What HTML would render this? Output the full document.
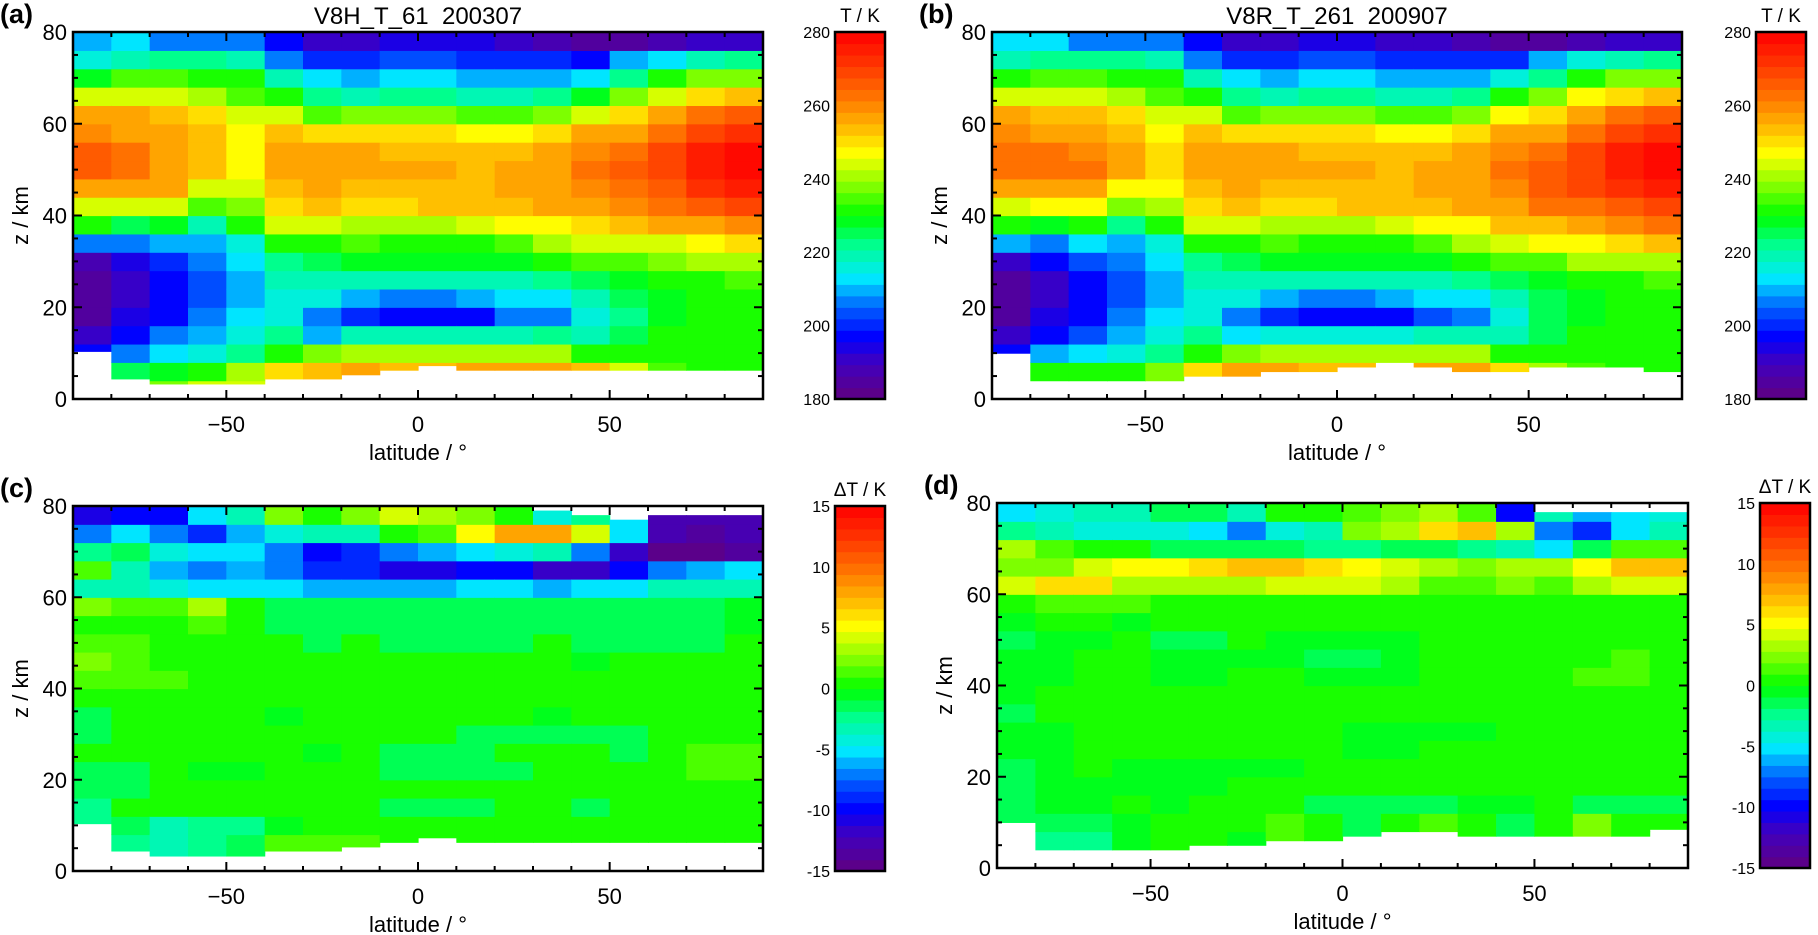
<!DOCTYPE html>
<html><head><meta charset="utf-8"><style>
html,body{margin:0;padding:0;background:#fff}
svg{display:block}
text{font-family:"Liberation Sans",sans-serif;fill:#000}
</style></head><body>
<svg id="fig" width="1818" height="935" viewBox="0 0 1818 935" xmlns="http://www.w3.org/2000/svg"></svg>
<script>
const N = null;
const latEdges = [-90,-80,-70,-60,-50,-40,-30,-20,-10,0,10,20,30,40,50,60,70,80,90];
const zEdges = [0,4,8,12,16,20,24,28,32,36,40,44,48,52,56,60,64,68,72,76,80];
const xTicks = [-50,0,50];
const yTicks = [0,20,40,60,80];
const cbTicksT = [180,200,220,240,260,280];
const cbTicksD = [-15,-10,-5,0,5,10,15];

const bottomA = [10.4,4.4,3.3,3.3,3.3,4.4,4.4,5.3,6.3,7.3,6.3,6.3,6.3,6.3,6.3,6.3,6.3,6.3];
const bottomB = [10,4,4,4,4,5,5,6,6,7,8,7,6,6,7,7,7,6];
const bottomD = [10,4,4,4,4,5,5,6,6,7,8,8,7,7,7,7,7,8.5];
const topC = [80,80,80,80,80,80,80,80,80,80,80,80,79,78,77,78,78,78];
const topD = [80,80,80,80,80,80,80,80,80,80,80,80,80,80,78,78,78,78];

const tempA = [
[N,N,198,190,185,185,185,188,208,232,245,255,265,265,260,255,245,228,215,210],
[N,225,208,198,195,190,190,195,205,225,245,258,262,262,258,255,245,235,220,212],
[238,228,212,205,198,198,198,200,210,228,245,256,258,258,256,252,245,235,222,208],
[245,232,215,210,207,203,203,205,210,220,235,245,252,253,252,250,242,232,222,206],
[245,240,222,216,214,210,210,213,216,230,238,244,248,248,247,244,236,230,218,205],
[N,250,232,222,215,215,218,222,232,245,250,253,255,255,252,245,232,218,208,198],
[N,253,238,210,206,215,220,225,232,243,252,256,257,255,250,235,222,213,200,190],
[N,258,240,218,200,210,220,228,234,242,250,254,256,255,250,237,220,210,200,192],
[N,252,240,218,197,208,220,228,232,240,250,254,255,254,250,238,222,212,202,195],
[N,252,240,218,198,208,220,228,232,242,252,254,255,254,250,238,222,212,202,195],
[N,255,240,218,198,210,220,228,232,244,252,254,254,253,248,235,220,210,200,193],
[N,255,240,220,205,212,220,228,235,246,252,255,255,254,248,234,220,210,200,190],
[N,255,242,222,208,213,222,230,240,248,255,258,258,256,250,238,222,210,200,188],
[N,252,232,218,215,220,225,235,245,250,258,260,262,260,256,245,228,213,198,185],
[N,245,232,225,222,225,228,235,245,252,260,264,265,263,258,250,238,222,210,185],
[N,235,232,230,228,228,230,238,245,255,262,266,268,268,262,255,245,230,213,188],
[N,232,230,230,230,230,232,240,248,258,265,272,276,275,270,262,250,238,218,190],
[N,232,230,230,230,232,235,240,250,260,268,275,278,277,272,265,252,238,222,192]];

const tempB = [
[N,N,198,190,185,185,186,190,210,232,245,255,264,264,260,255,245,230,218,212],
[N,232,210,198,194,190,190,196,208,228,246,258,263,263,258,254,244,234,222,214],
[242,230,214,203,198,197,198,202,212,230,247,258,262,260,256,252,244,234,222,208],
[245,232,216,210,205,203,203,206,210,222,238,248,255,256,254,250,242,232,222,205],
[245,238,222,216,213,210,210,213,216,230,240,246,250,250,248,244,236,230,218,205],
[N,250,232,222,216,215,218,222,232,245,250,253,255,255,252,245,232,218,208,198],
[N,255,238,212,206,215,220,225,232,243,252,256,257,255,250,236,222,213,200,190],
[N,255,240,216,200,210,220,228,234,242,250,254,256,255,250,237,220,210,200,192],
[N,252,240,216,197,208,220,228,232,240,250,254,255,254,250,238,222,212,202,194],
[N,252,240,216,197,208,220,228,232,242,252,254,255,254,250,238,222,212,202,194],
[N,255,240,216,198,210,220,228,233,244,252,254,254,253,248,235,220,210,200,192],
[N,255,240,218,203,212,220,228,235,246,252,255,255,254,248,235,220,210,200,190],
[N,256,242,220,205,213,222,230,240,248,255,258,258,256,250,238,222,210,200,188],
[N,250,232,220,215,220,225,235,245,252,258,261,263,260,256,246,230,215,200,186],
[N,240,232,226,224,226,228,236,246,254,262,266,267,264,258,250,238,222,210,186],
[N,234,232,230,228,228,232,240,247,257,264,268,270,269,263,256,246,232,215,188],
[N,232,230,230,230,231,233,241,250,260,267,273,276,275,270,262,250,238,220,190],
[N,232,230,230,230,232,235,242,252,262,270,276,278,277,272,265,252,238,222,192]];

const dtC = [
[N,N,-2,-2,-1,-1,0,-1,-1,0,1,2,1,0,2,-3,1.5,-2,-7,-11],
[N,-2,-1,0,-1,-1,0,0,0,0,1,1.5,1,0.5,1.5,-3,-3,-1,-5,-10],
[N,-3,-3,0,0,0,0,0,0,0,1,0.5,0,0,1.5,-4,-6,-4,-7,-10],
[N,-2,-2,0,0,-0.5,0,0,0,0,0,0,0,1,3,-5,-7,-5,-9,-5],
[N,-1,-2,0,0,-0.5,0,0,0,0,0,0,0,0,0,-5,-6,-5,-6,-3],
[N,1,-0.5,0,0,0,0,0,-0.5,0,0,0,0,-1,-1,-5,-7,-7,-4,2],
[N,1,0,0,0,0,-0.5,0,0,0,0,0,-1,-1,-1,-6,-9,-10,-3,0],
[N,1,0,0,0,0,0,0,0,0,0,0,0,-1,-1,-6,-9,-9,-3,2],
[N,N,0,-1,0,-1,-1,0,0,0,0,0,-1,-1,-1,-6,-11,-7,0,4],
[N,N,0,-1,0,-1,-1,0,0,0,0,0,-1,-1,-1.5,-6,-11,-6,1,3],
[N,N,0,-1,0,-1,-1,-1,0,0,0,0,-1,-1.5,-1.5,-5,-10,-5,5,2],
[N,N,0,0,0,-1,0,-1,0,0,0,0,-1,-1.5,-1.5,-5,-10,-4,8,0],
[N,N,0,0,0,0,0,-1,-0.5,0,0,0,0,-1,-1,-6,-12,-3,8,-4],
[N,N,0,-1,0,0,0,-1,0,0,0,-0.5,-1,-1,-1,-5,-12,-7,4,-2],
[N,N,0,0,0,0,-1,-1,0,0,0,0,-1,-1,-1,-5,-10,-12,-5,-5],
[N,N,0,0,0,0,0,0,0,0,0,0,-1,-1,-1,-3,-7,-15,-13,-13],
[N,N,0,0,0.5,1,1,0.5,0.5,0.5,0,0,-1,-1,-1,-3,-6,-15,-14,-13],
[N,N,0,0,0.5,1,1,0.5,0.5,0.5,0,0,0,-0.5,-0.5,-3,-5,-14,-13,-13]];

const dtD = [
[N,N,-1,-1.5,-1,-1,-0.5,-0.5,-1,-0.5,-0.5,-0.5,-1,-0.5,0,4,2,3,-2,-5],
[N,-2,-1,-0.5,-0.5,-0.5,-0.5,-0.5,0,0,-0.5,-0.5,-0.5,0,1,6,2,1,-3,-4],
[N,-2,-1,-0.5,-0.5,0,0,0,0.5,0.5,0,0,-0.5,0,1,6,4,0,-4,-3],
[N,-0.5,-0.5,0,-0.5,-0.5,0,0,0,0,0,0,0,-0.5,1,3,5,0,-4,-3],
[N,N,0,-0.5,-0.5,-0.5,0,0,0,0,-0.5,-0.5,-1,0,0.5,3,5.5,-1,-4,-1],
[N,N,0,0,-0.5,-0.5,0,0,0.5,0,-0.5,-0.5,-1,0,0.5,3,6,-1,-5,-1],
[N,-0.5,0,0,0,-0.5,0,0,0.5,0,0,-0.5,0,0,0,3,7,-1,-7,-3],
[N,N,1,0,0,-0.5,0,0,0.5,0,0,-0.5,-0.5,0,0,4,7,-1,-4,0],
[N,N,0,-1,0,0,0,0,0,0,-0.5,-1,-0.5,0,0,4,6,-2,-3,0],
[N,N,-1,-1,0,0,-0.5,-0.5,0,0,-0.5,-1,-0.5,0,0,4,5,-2,2,1],
[N,N,0,-1,0,0,-0.5,-0.5,0,0,-0.5,-0.5,-0.5,0,0,3,4,-1,3,2],
[N,N,1,-1,0,0,0,-0.5,0,0,0,0,0,0,0,1,3,-1,6,3],
[N,N,0,-0.5,0,0,0,-0.5,0,0,0,0,0,0,0,1,2,-2,7,1],
[N,N,-1,-0.5,0,0,0,0,0,0,0,0,0,0,0,2,3,-3,3,-10],
[N,N,0,0,0,0,0,0,0,0,0,0,0,0,0,1,3,-5,-7,-3],
[N,N,2,-1,0,0,0,0,0,0,1,0,0,0,0,3,5,-1,-9,-6],
[N,N,0,-1,0,0,0,0,0,0,1,1,0,0,0,4,7,1,-5,-5],
[N,N,0,-1,0,0,0,0,0,0,0,0,0,0,0,4,7,1,-3,-4]];

const NS = "http://www.w3.org/2000/svg";
const svg = document.getElementById('fig');
function mk(tag, attrs, parent){
  const e = document.createElementNS(NS, tag);
  for (const k in attrs) e.setAttribute(k, attrs[k]);
  (parent||svg).appendChild(e);
  return e;
}
const stops = [[0,[96,0,128]],[0.1,[64,0,192]],[0.17,[0,0,255]],[0.25,[0,96,255]],[0.33,[0,232,255]],[0.42,[0,255,144]],[0.5,[0,255,0]],[0.58,[128,255,0]],[0.67,[255,255,0]],[0.75,[255,176,0]],[0.83,[255,112,0]],[0.92,[255,48,0]],[1,[255,0,0]]];
function cmap(t){
  t = Math.max(0, Math.min(1, t));
  t = Math.floor(t*32)/32 + 1/64;
  for (let i=1;i<stops.length;i++){
    if (t<=stops[i][0]){
      const a=stops[i-1], b=stops[i], f=(t-a[0])/(b[0]-a[0]);
      const c=a[1].map((v,j)=>Math.round(v+(b[1][j]-v)*f));
      return `rgb(${c[0]},${c[1]},${c[2]})`;
    }
  }
  return 'rgb(255,0,0)';
}

function panel(cfg){
  const {x0,y0,w,h,data,vmin,vmax,bottoms,tops,label,title,cbx,cbLabel,cbTicks,name} = cfg;
  const g = mk('g',{});
  
  
  const X = lat => x0 + (lat+90)/180*w;
  const Y = z => y0 + h - z/80*h;
  const cells = mk('g',{},g);
  
  
  for (let i=0;i<latEdges.length-1;i++){
    const col = data[i];
    for (let j=0;j<zEdges.length-1;j++){
      let v = col[j];
      let k=j; while (v===null && k<col.length-1){k++; v=col[k];}
      const zb = Math.max(zEdges[j], bottoms[i]);
      const zt = Math.min(zEdges[j+1], tops ? tops[i] : 80);
      if (zt<=zb) continue;
      const xa = X(latEdges[i]), xb = X(latEdges[i+1]);
      const r = mk('rect',{x:xa.toFixed(2),y:Y(zt).toFixed(2),width:(xb-xa+0.6).toFixed(2),height:(Y(zb)-Y(zt)+0.6).toFixed(2),fill:cmap((v-vmin)/(vmax-vmin))},cells);
      
      
    }
  }
  const fr = mk('rect',{x:x0,y:y0,width:w,height:h,fill:'none',stroke:'#000','stroke-width':2.5},g);
  
  
  for (let lat=-80; lat<=80; lat+=10){
    const major = xTicks.includes(lat);
    const L = major?9:5;
    mk('line',{x1:X(lat),x2:X(lat),y1:y0+h,y2:y0+h-L,stroke:'#000','stroke-width':2},g);
    mk('line',{x1:X(lat),x2:X(lat),y1:y0,y2:y0+L,stroke:'#000','stroke-width':2},g);
  }
  for (let z=5; z<80; z+=5){
    const major = yTicks.includes(z);
    const L = major?9:5;
    mk('line',{x1:x0,x2:x0+L,y1:Y(z),y2:Y(z),stroke:'#000','stroke-width':2},g);
    mk('line',{x1:x0+w,x2:x0+w-L,y1:Y(z),y2:Y(z),stroke:'#000','stroke-width':2},g);
  }
  xTicks.forEach(t=>{
    const tx = mk('text',{x:X(t),y:y0+h+33,'font-size':22,'text-anchor':'middle'},g);
    tx.textContent = t<0 ? '\u2212'+Math.abs(t) : String(t);
    
    
  });
  yTicks.forEach(t=>{
    const tx = mk('text',{x:x0-6,y:Y(t)+8,'font-size':22,'text-anchor':'end'},g);
    tx.textContent = String(t);
    
    
  });
  const xl = mk('text',{x:x0+w/2,y:y0+h+61,'font-size':22,'text-anchor':'middle'},g);
  xl.textContent = 'latitude / \u00b0';
  
  
  const yl = mk('text',{x:0,y:0,'font-size':22,'text-anchor':'middle',transform:`translate(${x0-45},${y0+h/2}) rotate(-90)`},g);
  yl.textContent = 'z / km';
  
  
  const pl = mk('text',{x:x0-73,y:y0-9,'font-size':27,'font-weight':'bold'},g);
  pl.textContent = label;
  
  
  if (title){
    const tt = mk('text',{x:x0+w/2,y:y0-8,'font-size':24,'text-anchor':'middle'},g);
    tt.textContent = title;
    
    
  }
  const cb = mk('g',{},g);
  
  
  const cw = 50, nb = 32;
  for (let b=0;b<nb;b++){
    const yb = y0 + h - (b+1)/nb*h;
    mk('rect',{x:cbx,y:yb.toFixed(2),width:cw,height:(h/nb+0.6).toFixed(2),fill:cmap((b+0.5)/nb)},cb);
  }
  mk('rect',{x:cbx,y:y0,width:cw,height:h,fill:'none',stroke:'#000','stroke-width':2.5},cb);
  cbTicks.forEach(t=>{
    const yy = y0 + h - (t-vmin)/(vmax-vmin)*h;
    const tx = mk('text',{x:cbx-5,y:yy+6,'font-size':16,'text-anchor':'end'},cb);
    tx.textContent = String(t);
    
    
  });
  const cl = mk('text',{x:cbx+cw/2,y:y0-10,'font-size':19,'text-anchor':'middle'},cb);
  cl.textContent = cbLabel;
  
  
}

panel({name:'panel-a',x0:73,y0:32,w:690,h:367,data:tempA,vmin:180,vmax:280,bottoms:bottomA,tops:null,label:'(a)',title:'V8H_T_61\u00a0\u00a0200307',cbx:835,cbLabel:'T / K',cbTicks:cbTicksT});
panel({name:'panel-b',x0:992,y0:32,w:690,h:367,data:tempB,vmin:180,vmax:280,bottoms:bottomB,tops:null,label:'(b)',title:'V8R_T_261\u00a0\u00a0200907',cbx:1756,cbLabel:'T / K',cbTicks:cbTicksT});
panel({name:'panel-c',x0:73,y0:506,w:690,h:365,data:dtC,vmin:-15,vmax:15,bottoms:bottomA,tops:topC,label:'(c)',title:null,cbx:835,cbLabel:'\u0394T / K',cbTicks:cbTicksD});
panel({name:'panel-d',x0:997,y0:503,w:691,h:365,data:dtD,vmin:-15,vmax:15,bottoms:bottomD,tops:topD,label:'(d)',title:null,cbx:1760,cbLabel:'\u0394T / K',cbTicks:cbTicksD});
</script>
</body></html>
